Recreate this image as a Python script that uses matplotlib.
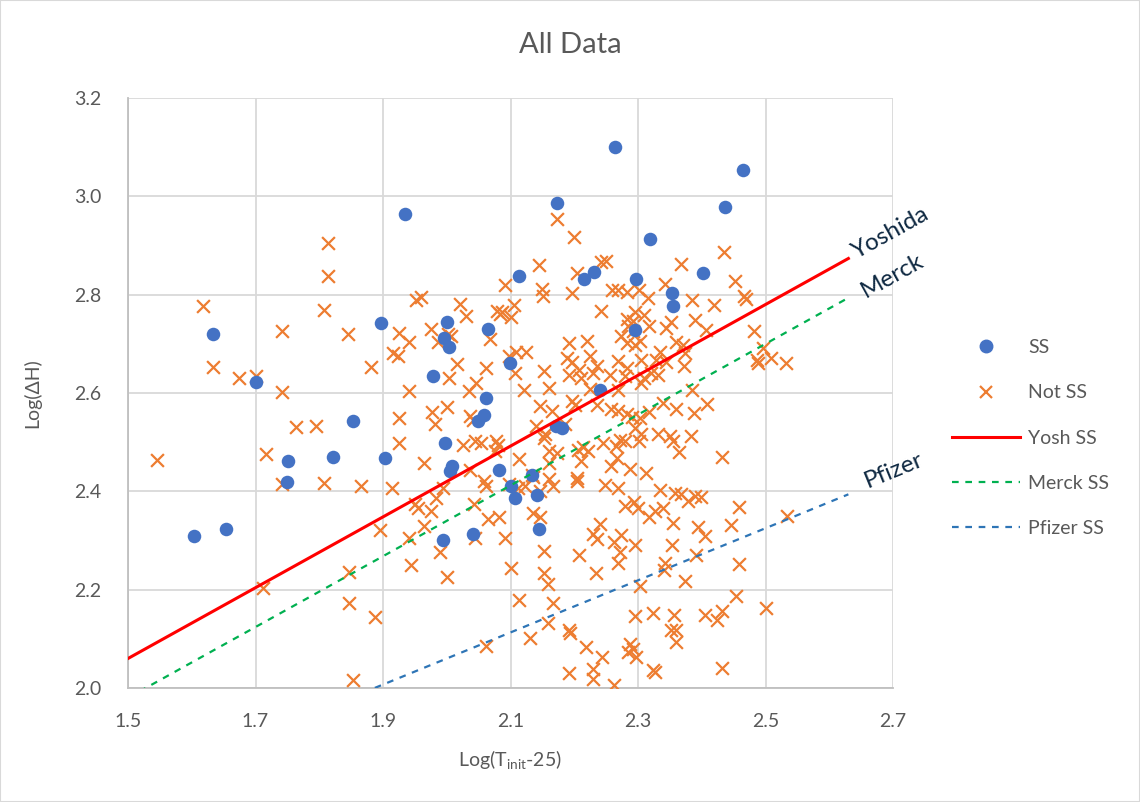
import matplotlib
matplotlib.use("Agg")
import matplotlib.pyplot as plt
from matplotlib.lines import Line2D
from matplotlib.patches import Rectangle
import numpy as np

plt.rcParams['font.family'] = ['Lato', 'DejaVu Sans']

# Steady-state (SS) runs: Log(T_init - 25) vs Log(dH)
ss_x = [1.604, 1.653, 1.634, 1.701, 1.751, 1.750, 1.822, 1.853, 1.897, 1.903,
        1.934, 1.979, 1.995, 2.004, 2.000, 1.998, 1.994, 2.009, 2.005, 2.041,
        2.064, 2.062, 2.058, 2.049, 2.082, 2.099, 2.101, 2.107, 2.113, 2.133,
        2.141, 2.145, 2.172, 2.181, 2.173, 2.215, 2.231, 2.241, 2.264, 2.297,
        2.296, 2.319, 2.353, 2.355, 2.402, 2.437, 2.464]
ss_y = [2.310, 2.323, 2.719, 2.623, 2.461, 2.420, 2.470, 2.544, 2.743, 2.467,
        2.965, 2.635, 2.711, 2.694, 2.744, 2.499, 2.301, 2.451, 2.441, 2.313,
        2.731, 2.589, 2.555, 2.544, 2.443, 2.661, 2.411, 2.386, 2.838, 2.433,
        2.393, 2.324, 2.532, 2.528, 2.986, 2.831, 2.847, 2.606, 3.100, 2.831,
        2.729, 2.913, 2.804, 2.777, 2.844, 2.978, 3.053]

# Runs that did not reach steady state
not_ss_x = [
    1.814, 1.814, 1.618, 1.807, 1.742, 1.845, 1.634, 1.674, 1.701, 1.742, 1.881,
    1.764, 1.795, 1.546, 1.717, 1.742, 1.807, 1.865, 1.895, 1.846, 1.712, 1.846,
    1.888, 1.853,
    2.173, 2.200, 2.145, 2.242, 2.250, 2.204, 2.092, 2.150, 2.151, 2.196, 2.259,
    2.269, 2.283, 1.951, 1.959, 2.020, 2.030, 2.105, 2.079, 2.083, 2.086, 2.101,
    2.242, 1.925, 1.940, 1.975, 1.987, 2.002, 2.006, 2.068, 1.916, 1.924, 2.016,
    2.004, 1.941, 2.061, 2.046, 2.035, 2.097, 2.109, 2.124, 2.107, 2.121, 2.152,
    2.161, 2.192, 2.220, 2.188, 2.196, 2.225, 2.235, 2.191, 2.207, 2.211, 2.229,
    2.256, 2.269, 2.282, 2.279, 2.269, 2.225,
    2.274, 2.282, 2.292, 2.295, 2.282, 2.284, 2.295, 2.292,
    2.435, 2.368, 2.452, 2.342, 2.316, 2.301, 2.385, 2.419, 2.467, 2.469, 2.310,
    2.389, 2.352, 2.344, 2.318, 2.407, 2.303, 2.360, 2.371, 2.482, 2.496, 2.509,
    2.532, 2.486, 2.488, 2.334, 2.329, 2.373, 2.372, 2.344, 2.304, 2.321, 2.331,
    2.310, 2.305, 2.385,
    1.925, 1.977, 2.000, 1.982, 2.036, 2.041, 2.147, 2.165, 2.197, 2.201, 2.140,
    2.154, 2.186, 2.235, 2.257, 2.269, 2.282, 2.290, 1.925, 2.025, 2.044, 2.054,
    2.078, 2.080, 2.075, 1.965, 2.037, 2.058, 2.062, 2.113, 2.153, 2.161, 2.160,
    2.173, 2.133, 2.135, 2.160, 2.167, 2.206, 2.214, 2.222, 2.211, 2.245, 2.266,
    2.272, 2.279, 2.267, 2.258, 2.287, 2.204, 2.205, 2.249, 2.269, 2.295, 1.914,
    2.098, 2.112, 2.122, 2.147, 2.146, 2.136, 1.950, 1.955, 1.983, 1.976, 1.994,
    2.042, 1.965, 2.065, 2.082, 1.941, 2.045, 2.092, 1.990, 1.944, 2.000, 2.101,
    2.153, 2.153, 2.159, 2.208, 2.234, 2.269, 2.271, 2.263, 2.274, 2.229, 2.235,
    2.240, 2.279, 2.293, 2.300, 2.295, 2.113, 2.167, 2.159, 2.130, 2.062, 2.192,
    2.194, 2.219, 2.243, 2.229, 2.229, 2.192, 2.263, 2.295, 2.287, 2.292, 2.284,
    2.297,
    2.339, 2.318, 2.360, 2.388, 2.408, 2.303, 2.305, 2.301, 2.331, 2.350, 2.355,
    2.383, 2.365, 2.432, 2.312, 2.334, 2.358, 2.368, 2.378, 2.390, 2.399, 2.339,
    2.327, 2.317, 2.458, 2.355, 2.394, 2.405, 2.446, 2.534, 2.353, 2.391, 2.342,
    2.341, 2.458, 2.373, 2.303, 2.454, 2.501, 2.324, 2.356, 2.405, 2.431, 2.424,
    2.352, 2.360, 2.360, 2.324, 2.327, 2.432]
not_ss_y = [
    2.906, 2.838, 2.777, 2.769, 2.726, 2.721, 2.652, 2.630, 2.634, 2.603, 2.652,
    2.530, 2.533, 2.464, 2.475, 2.414, 2.416, 2.410, 2.321, 2.235, 2.203, 2.172,
    2.144, 2.017,
    2.954, 2.917, 2.860, 2.866, 2.869, 2.844, 2.819, 2.812, 2.797, 2.804, 2.810,
    2.810, 2.806, 2.789, 2.795, 2.782, 2.756, 2.779, 2.766, 2.760, 2.764, 2.754,
    2.767, 2.722, 2.704, 2.731, 2.704, 2.719, 2.715, 2.709, 2.681, 2.676, 2.659,
    2.631, 2.605, 2.650, 2.621, 2.605, 2.676, 2.683, 2.683, 2.640, 2.606, 2.645,
    2.611, 2.702, 2.706, 2.672, 2.664, 2.676, 2.655, 2.637, 2.646, 2.630, 2.640,
    2.637, 2.666, 2.650, 2.635, 2.606, 2.608,
    2.715, 2.702, 2.726, 2.698, 2.750, 2.736, 2.764, 2.747,
    2.887, 2.862, 2.828, 2.821, 2.794, 2.810, 2.790, 2.779, 2.797, 2.792, 2.758,
    2.748, 2.744, 2.732, 2.736, 2.729, 2.705, 2.703, 2.698, 2.726, 2.691, 2.671,
    2.662, 2.668, 2.661, 2.683, 2.668, 2.681, 2.654, 2.664, 2.668, 2.640, 2.637,
    2.630, 2.620, 2.606,
    2.549, 2.561, 2.571, 2.536, 2.553, 2.546, 2.573, 2.563, 2.584, 2.576, 2.532,
    2.516, 2.536, 2.576, 2.568, 2.563, 2.557, 2.551, 2.499, 2.494, 2.503, 2.499,
    2.502, 2.495, 2.483, 2.457, 2.443, 2.421, 2.411, 2.466, 2.509, 2.483, 2.458,
    2.478, 2.434, 2.429, 2.426, 2.411, 2.485, 2.490, 2.482, 2.461, 2.499, 2.492,
    2.505, 2.502, 2.468, 2.451, 2.445, 2.428, 2.422, 2.413, 2.407, 2.529, 2.406,
    2.414, 2.407, 2.411, 2.401, 2.348, 2.355, 2.374, 2.367, 2.387, 2.361, 2.406,
    2.374, 2.330, 2.343, 2.348, 2.306, 2.306, 2.306, 2.276, 2.251, 2.225, 2.245,
    2.279, 2.233, 2.211, 2.270, 2.233, 2.255, 2.276, 2.296, 2.311, 2.313, 2.303,
    2.333, 2.370, 2.378, 2.367, 2.291, 2.178, 2.172, 2.132, 2.102, 2.086, 2.117,
    2.112, 2.084, 2.063, 2.039, 2.019, 2.030, 2.007, 2.147, 2.090, 2.080, 2.073,
    2.063,
    2.580, 2.561, 2.568, 2.559, 2.578, 2.549, 2.516, 2.502, 2.516, 2.512, 2.502,
    2.512, 2.480, 2.470, 2.438, 2.403, 2.396, 2.395, 2.380, 2.391, 2.389, 2.367,
    2.361, 2.347, 2.368, 2.336, 2.328, 2.309, 2.331, 2.349, 2.291, 2.271, 2.255,
    2.239, 2.252, 2.217, 2.208, 2.188, 2.163, 2.152, 2.149, 2.149, 2.157, 2.139,
    2.117, 2.118, 2.093, 2.037, 2.032, 2.041]

# Steady-state correlations: Log(dH) = slope * Log(T_init - 25) + intercept
yosh_slope, yosh_intercept = 0.72, 0.98
merck_slope, merck_intercept = 0.72, 0.90
pfizer_slope, pfizer_intercept = 0.53, 1.00
line_x_start, line_x_end = 1.5, 2.63

x_ticks = [1.5, 1.7, 1.9, 2.1, 2.3, 2.5, 2.7]
y_ticks = [2.0, 2.2, 2.4, 2.6, 2.8, 3.0, 3.2]

text_gray = '#595959'
navy = '#0E2841'
grid_gray = '#D9D9D9'

fig = plt.figure(figsize=(11.4, 8.02), dpi=100)
fig.patches.append(Rectangle((0, 0), 1, 1, transform=fig.transFigure,
                             fill=False, edgecolor=grid_gray, linewidth=1.5))
ax = fig.add_axes([128 / 1140, 1 - 688 / 802, 765 / 1140, 590 / 802])

ax.set_xlim(x_ticks[0], x_ticks[-1])
ax.set_ylim(y_ticks[0], y_ticks[-1])
ax.set_xticks(x_ticks)
ax.set_yticks(y_ticks)
ax.set_xticklabels([f'{v:.1f}' for v in x_ticks])
ax.set_yticklabels([f'{v:.1f}' for v in y_ticks])
ax.tick_params(length=0, labelsize=14, colors=text_gray)
ax.tick_params(axis='y', pad=19)
ax.tick_params(axis='x', pad=18)
ax.grid(True, color=grid_gray, linewidth=1.3)
ax.set_axisbelow(True)
for side in ('top', 'right'):
    ax.spines[side].set_visible(False)
for side in ('left', 'bottom'):
    ax.spines[side].set_color('#BFBFBF')
    ax.spines[side].set_linewidth(1.3)

ax.scatter(ss_x, ss_y, s=95, color='#4472C4', marker='o', linewidths=0,
           zorder=4, label='SS')
ax.scatter(not_ss_x, not_ss_y, s=85, color='#ED7D31', marker='x',
           linewidths=1.6, zorder=3, label='Not SS')

lx = np.array([line_x_start, line_x_end])
ax.plot(lx, yosh_slope * lx + yosh_intercept, color='#FF0000', lw=2.2,
        zorder=5, label='Yosh SS')
ax.plot(lx, merck_slope * lx + merck_intercept, color='#00B050', lw=1.6,
        ls=(0, (3, 3)), zorder=5, label='Merck SS')
ax.plot(lx, pfizer_slope * lx + pfizer_intercept, color='#2E75B6', lw=1.6,
        ls=(0, (3, 3)), zorder=5, label='Pfizer SS')

# Line names written along each correlation, beyond its end
def line_angle(slope):
    p0 = ax.transData.transform((2.0, 2.0))
    p1 = ax.transData.transform((2.5, 2.0 + 0.5 * slope))
    return np.degrees(np.arctan2(p1[1] - p0[1], p1[0] - p0[0]))

ax.text(2.697, 2.925, 'Yoshida', rotation=line_angle(yosh_slope),
        rotation_mode='anchor', ha='center', va='center', fontsize=17.5,
        color=navy, clip_on=False)
ax.text(2.699, 2.838, 'Merck', rotation=line_angle(merck_slope),
        rotation_mode='anchor', ha='center', va='center', fontsize=17.5,
        color=navy, clip_on=False)
ax.text(2.702, 2.442, 'Pfizer', rotation=line_angle(pfizer_slope),
        rotation_mode='anchor', ha='center', va='center', fontsize=17.5,
        color=navy, clip_on=False)

handles = [
    Line2D([], [], ls='none', marker='o', ms=9, color='#4472C4'),
    Line2D([], [], ls='none', marker='x', ms=8, mew=1.6, color='#ED7D31'),
    Line2D([], [], color='#FF0000', lw=2.2),
    Line2D([], [], color='#00B050', lw=1.6, ls=(0, (3, 3))),
    Line2D([], [], color='#2E75B6', lw=1.6, ls=(0, (3, 3))),
]
labels = ['SS', 'Not SS', 'Yosh SS', 'Merck SS', 'Pfizer SS']
leg = fig.legend(handles, labels, loc='center left',
                 bbox_to_anchor=(934 / 1140, 1 - 438 / 802), frameon=False,
                 fontsize=14, handlelength=3.5, handletextpad=0.45,
                 labelspacing=1.45, borderpad=0.4)
for t in leg.get_texts():
    t.set_color(text_gray)

fig.text(0.5, 1 - 45 / 802, 'All Data', ha='center', va='center',
         fontsize=21, color=text_gray)
fig.text(510 / 1140, 1 - 760 / 802, r'Log(T$_{\mathregular{init}}$-25)',
         ha='center', va='center', fontsize=14, color=text_gray)
fig.text(32 / 1140, 1 - 393 / 802, 'Log(ΔH)', rotation=90, ha='center',
         va='center', fontsize=14, color=text_gray)

fig.savefig('out.png', dpi=100, facecolor='white')
